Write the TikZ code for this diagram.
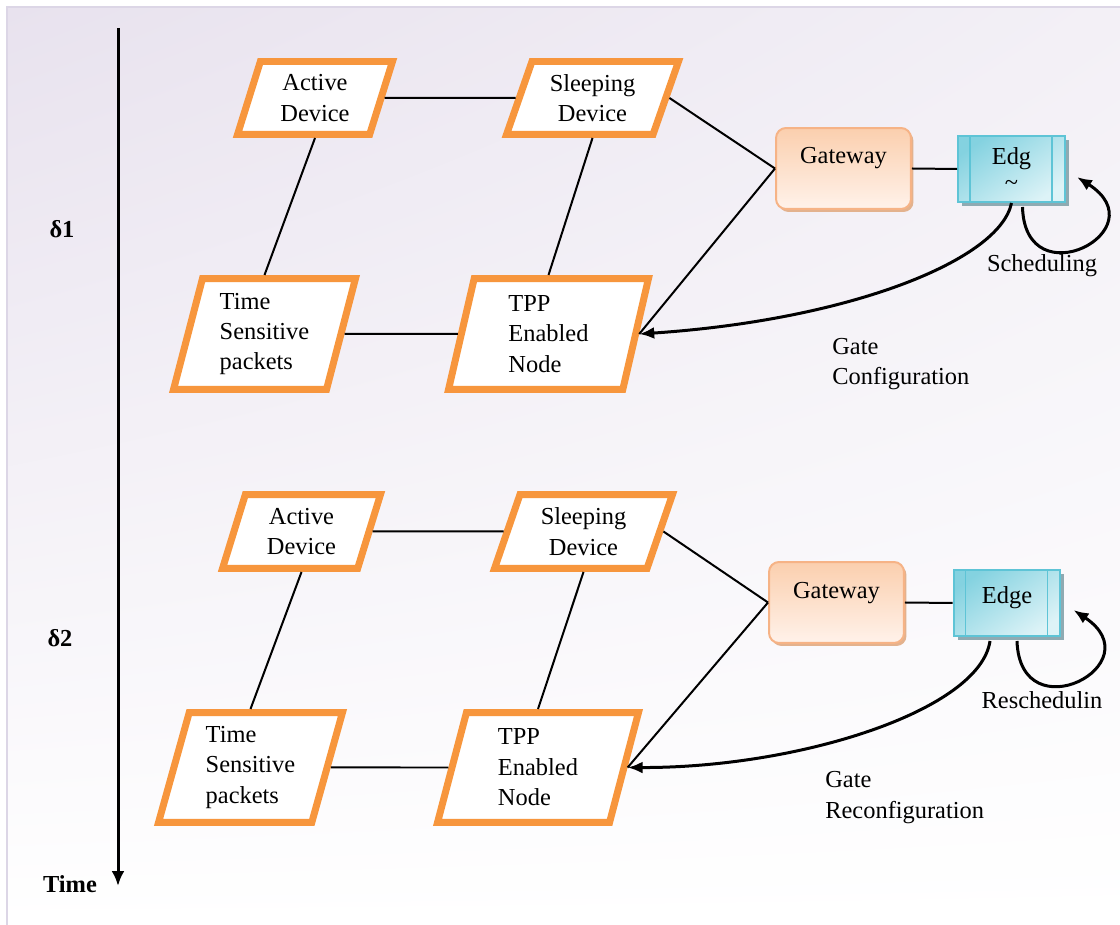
\documentclass[tikz,border=0pt]{standalone}
\usepackage{fontspec}
\setmainfont{Liberation Serif}
\usetikzlibrary{shapes.geometric,arrows.meta,shadows,shadings,calc}
\definecolor{bgTL}{HTML}{E8E2EE}
\definecolor{bgTR}{HTML}{F3F0F6}
\definecolor{bgLine}{HTML}{DCD6E6}
\definecolor{orng}{HTML}{F7963D}
\definecolor{gwTop}{HTML}{FBCFAE}
\definecolor{gwBot}{HTML}{FFF2EA}
\definecolor{gwLine}{HTML}{F6B386}
\definecolor{gwShadow}{HTML}{E3B28E}
\definecolor{edLine}{HTML}{5EC4D6}
\definecolor{edDark}{HTML}{84D2E0}
\definecolor{edLight}{HTML}{DDF3F7}
\definecolor{edShadow}{HTML}{8FAAB2}
\newcommand\myfs{\fontsize{13.9pt}{17.3pt}\selectfont}
\begin{document}
\begin{tikzpicture}[x=0.02cm,y=-0.02cm,
  para/.style={trapezium, draw=orng, line width=0.14cm, fill=white,
    trapezium stretches body, inner sep=2pt, align=left, font=\myfs},
  gate/.style={rectangle, rounded corners=0.2cm, draw=gwLine, line width=0.04cm,
    top color=gwTop, bottom color=gwBot, minimum width=2.70cm, minimum height=1.62cm,
    font=\myfs, inner sep=0pt,
    drop shadow={shadow xshift=0.05cm, shadow yshift=-0.06cm, fill=gwShadow, opacity=1}},
  edgebox/.style={rectangle, draw=edLine, line width=0.04cm,
    top color=edDark, bottom color=edLight, shading angle=35,
    minimum width=2.14cm, minimum height=1.32cm, font=\myfs, inner sep=0pt, align=center,
    drop shadow={shadow xshift=0.08cm, shadow yshift=-0.08cm, fill=edShadow, opacity=1}},
  band/.style={edLine, line width=0.035cm},
  conn/.style={line width=0.04cm, black},
  curvearrow/.style={line width=0.06cm, black, -{Latex[length=0.3cm,width=0.24cm]}},
  lbl/.style={font=\myfs, inner sep=0pt},
  blbl/.style={font=\myfs\bfseries, inner sep=0pt}]
\useasboundingbox (0,0) rectangle (1120,925);
% background
\shade[upper left=bgTL, upper right=bgTR, lower left=white, lower right=white] (7,7) rectangle (1120,925);
\draw[bgLine, line width=0.04cm] (7,925) -- (7,7) -- (1120,7);
% time axis
\coordinate (ttop) at (118,28);
\coordinate (tbot) at (118,886);
\draw[line width=0.06cm, -{Latex[length=0.3cm,width=0.26cm]}] (ttop) -- (tbot);
\node[blbl] (tlab) at (70,884) {Time};
\node[blbl] (d1) at (62,229) {δ1};
\node[blbl] (d2) at (60,638) {δ2};
% ---------- upper group
\node[para, trapezium left angle=67, trapezium right angle=113, minimum width=3.10cm, minimum height=1.46cm, align=center] (a1) at (315,98) {Active\\Device};
\node[para, trapezium left angle=65, trapezium right angle=115, minimum width=3.44cm, minimum height=1.46cm, align=center] (s1) at (592.5,98) {Sleeping\\Device};
\node[para, trapezium left angle=72, trapezium right angle=108, minimum width=3.64cm, minimum height=2.22cm] (t1) at (264.5,334) {Time\\Sensitive\\packets};
\node[para, trapezium left angle=73, trapezium right angle=107, minimum width=4.00cm, minimum height=2.22cm] (p1) at (548.5,334) {TPP\\Enabled\hspace*{0.36cm}\\Node};
\node[gate] (g1) at (843.5,168.5) {\raisebox{0.52cm}{Gateway}};
\node[edgebox] (e1) at (1011.5,169) {Edg\\[-2pt]\~{}};
\draw[band] ($(e1.north west)+(13,0)$) -- ($(e1.south west)+(13,0)$);
\draw[band] ($(e1.north east)+(-14,0)$) -- ($(e1.south east)+(-14,0)$);
\draw[conn] (a1.east) -- (s1.west);
\draw[conn] (a1.south) -- (t1.north);
\draw[conn] (s1.south) -- (p1.north);
\draw[conn] (t1.east) -- (p1.west);
\draw[conn] (s1.east) -- (g1.west);
\draw[conn] (g1.west) -- (p1.east);
\draw[conn] (g1.east) -- (e1.west);
\draw[curvearrow] (e1.south) .. controls (1000,260) and (850,320) .. (p1.east);
\coordinate (l1s) at ($(e1.south)+(11,4)$);
\coordinate (l1e) at ($(e1.east)+(11,8)$);
\draw[curvearrow] (l1s) .. controls (1025,300) and (1160,230) .. (l1e);
\node[lbl] (sch) at (1042,266) {Scheduling};
\node[lbl, anchor=west, align=left] (gc) at (832,364) {Gate\\Configuration};
% ---------- lower group
\node[para, trapezium left angle=67, trapezium right angle=113, minimum width=3.16cm, minimum height=1.48cm, align=center] (a2) at (301.5,531.5) {Active\\Device};
\node[para, trapezium left angle=65, trapezium right angle=115, minimum width=3.56cm, minimum height=1.48cm, align=center] (s2) at (583.5,531.5) {Sleeping\\Device};
\node[para, trapezium left angle=71, trapezium right angle=109, minimum width=3.68cm, minimum height=2.20cm] (t2) at (250.5,767.5) {Time\\Sensitive\\packets};
\node[para, trapezium left angle=71, trapezium right angle=109, minimum width=4.02cm, minimum height=2.20cm] (p2) at (538,767.5) {TPP\\Enabled\hspace*{0.40cm}\\Node};
\node[gate] (g2) at (836.5,602.5) {\raisebox{0.50cm}{Gateway}};
\node[edgebox] (e2) at (1007,603) {\raisebox{0.32cm}{Edge}};
\draw[band] ($(e2.north west)+(13,0)$) -- ($(e2.south west)+(13,0)$);
\draw[band] ($(e2.north east)+(-14,0)$) -- ($(e2.south east)+(-14,0)$);
\draw[conn] (a2.east) -- (s2.west);
\draw[conn] (a2.south) -- (t2.north);
\draw[conn] (s2.south) -- (p2.north);
\draw[conn] (t2.east) -- (p2.west);
\draw[conn] (s2.east) -- (g2.west);
\draw[conn] (g2.west) -- (p2.east);
\draw[conn] (g2.east) -- (e2.west);
\coordinate (c2s) at ($(e2.south)+(-17,4)$);
\draw[curvearrow] (c2s) .. controls (980,710) and (800,768) .. (p2.east);
\coordinate (l2s) at ($(e2.south)+(10,4)$);
\coordinate (l2e) at ($(e2.east)+(12,7)$);
\draw[curvearrow] (l2s) .. controls (1020,734) and (1155,664) .. (l2e);
\node[lbl] (rsch) at (1042,700) {Reschedulin};
\node[lbl, anchor=west, align=left] (grc) at (825,797.5) {Gate\\Reconfiguration};
\end{tikzpicture}
\end{document}
